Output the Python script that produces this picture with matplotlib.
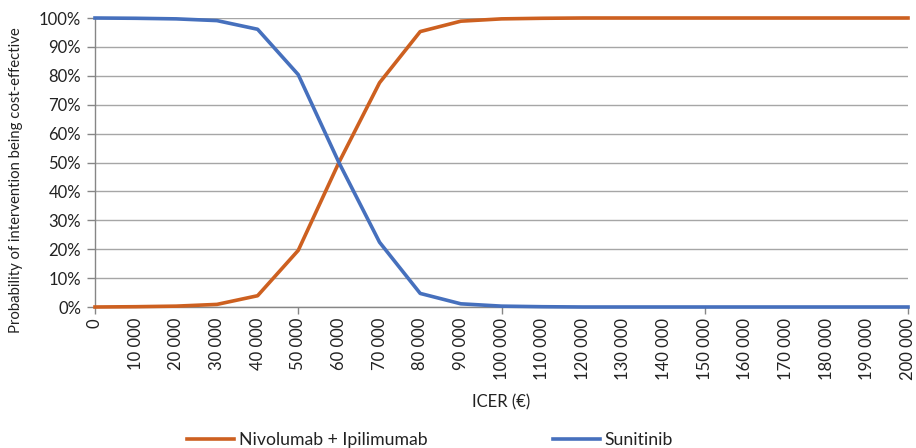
import matplotlib
matplotlib.use('Agg')
import matplotlib.pyplot as plt
from matplotlib.ticker import FixedLocator, PercentFormatter

# Cost-effectiveness acceptability curves
icer = list(range(0, 200001, 10000))
nivo_ipi = [0.0, 0.1, 0.3, 0.9, 3.9, 19.6, 50.0, 77.6, 95.3, 98.9, 99.7, 99.9, 100, 100, 100,
            100, 100, 100, 100, 100, 100]
sunitinib = [100, 99.9, 99.7, 99.1, 96.1, 80.4, 50.0, 22.4, 4.7, 1.1, 0.3, 0.1, 0, 0, 0,
             0, 0, 0, 0, 0, 0]
xtick_labels = ['0' if v == 0 else f'{v // 1000} 000' for v in icer]

plt.rcParams['font.family'] = ['Lato', 'DejaVu Sans']
fs = 12
text_color = '#222222'

fig = plt.figure(figsize=(9.16, 4.48), dpi=100)
ax = fig.add_axes([95 / 916, 1 - 307 / 448, 813 / 916, 289 / 448])

orange = '#CD6020'
blue = '#4670BD'
ax.plot(icer, nivo_ipi, color=orange, linewidth=2.6, label='Nivolumab + Ipilimumab',
        solid_joinstyle='round', clip_on=False, zorder=3)
ax.plot(icer, sunitinib, color=blue, linewidth=2.6, label='Sunitinib',
        solid_joinstyle='round', clip_on=False, zorder=3)

ax.set_xlim(0, 200000)
ax.set_ylim(0, 100)
ax.set_yticks(range(0, 101, 10))
ax.yaxis.set_major_formatter(PercentFormatter(decimals=0))
ax.grid(axis='y', color='#A6A6A6', linewidth=1)
ax.set_axisbelow(True)

ax.set_xticks(icer)
ax.set_xticklabels(xtick_labels, rotation=90, va='top', ha='center')
ax.xaxis.remove_overlapping_locs = False
ax.xaxis.set_minor_locator(FixedLocator(range(0, 200001, 50000)))
ax.tick_params(axis='x', which='major', length=0, pad=8, labelsize=fs, labelcolor=text_color)
ax.tick_params(axis='x', which='minor', length=5, color='#868686', width=1)
ax.tick_params(axis='y', length=6, color='#868686', width=1, pad=4, labelsize=fs,
               labelcolor=text_color)

for side in ('top', 'right'):
    ax.spines[side].set_visible(False)
for side in ('left', 'bottom'):
    ax.spines[side].set_color('#868686')
    ax.spines[side].set_linewidth(1)

ax.set_xlabel('ICER (€)', fontsize=fs, color=text_color, labelpad=10)
ax.set_ylabel('Probability of intervention being cost-effective', fontsize=10.7,
              color=text_color)
ax.yaxis.set_label_coords(-72 / 813, 0.44)

fig.legend(loc='center', bbox_to_anchor=(430 / 916, 1 - 440 / 448), ncol=2, frameon=False,
           fontsize=12.7, handlelength=2.7, columnspacing=7.1, handletextpad=0.25,
           borderpad=0, labelcolor=text_color)

fig.savefig('out.png', dpi=100)
